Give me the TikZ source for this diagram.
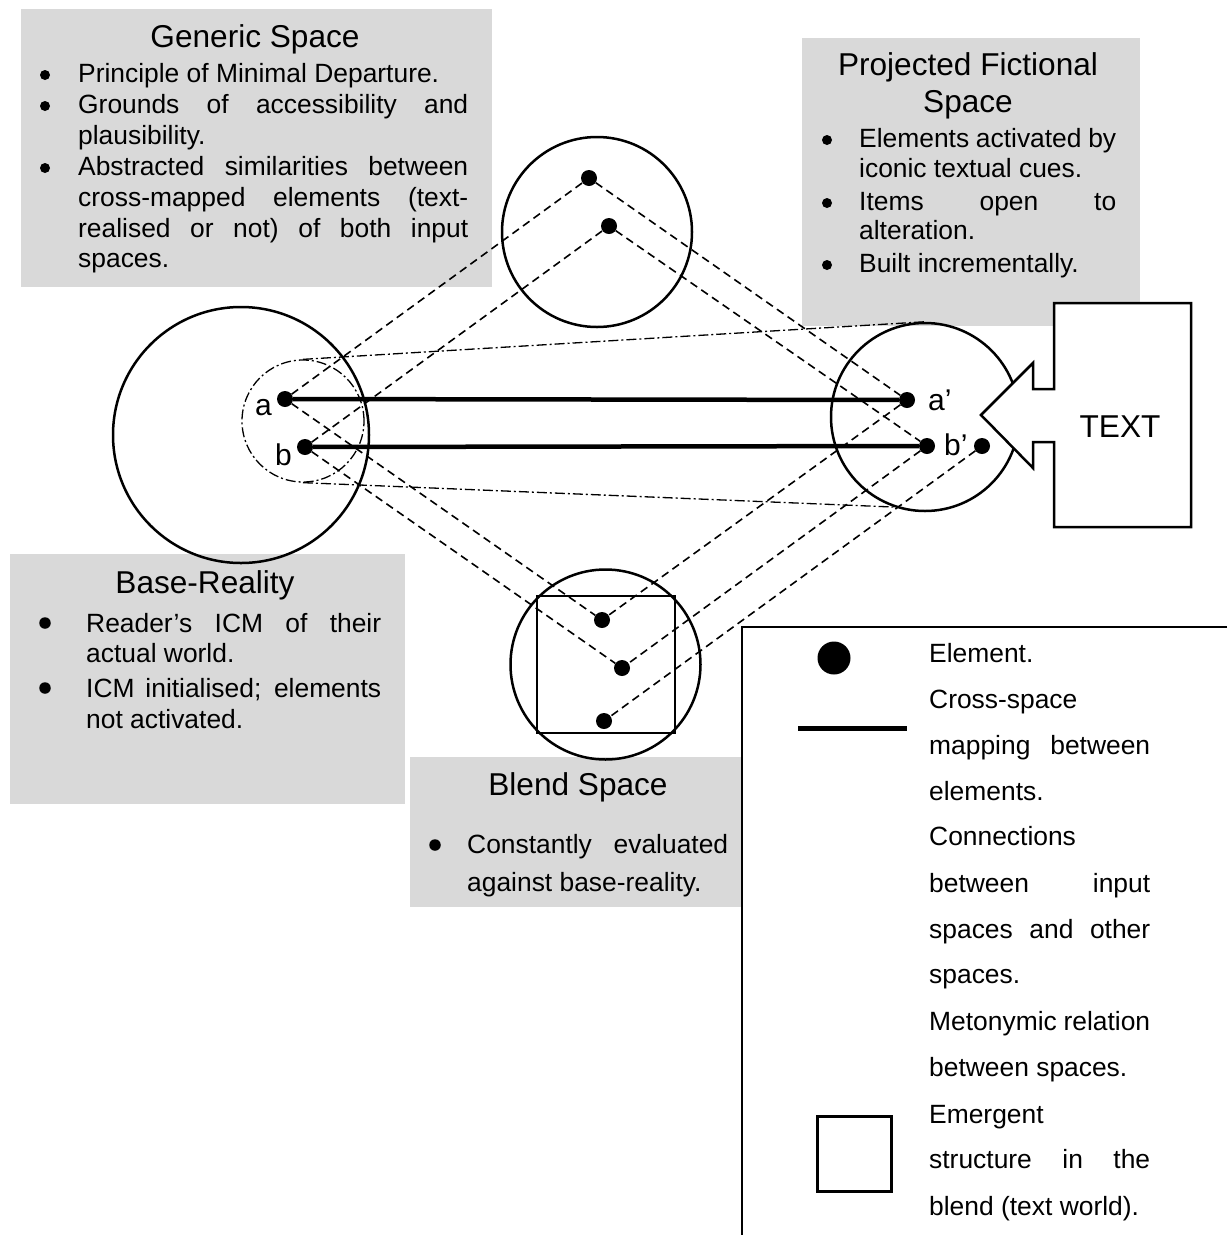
\documentclass[tikz,border=0pt]{standalone}
\usepackage{fontspec}
\setmainfont{Liberation Sans}
\definecolor{boxgray}{HTML}{D9D9D9}
\newcommand\mybody{\fontsize{26.4}{30}\selectfont}
\newcommand\mytitle{\fontsize{31.6}{36}\selectfont}
\newcommand\mylabel{\fontsize{30}{34}\selectfont}
\newcommand\jst[2]{\makebox[#1pt][s]{#2}}
\begin{document}
\begin{tikzpicture}[x=1pt,y=-1pt,
  graybox/.style={fill=boxgray,draw=none},
  txt/.style={inner sep=0pt,anchor=base west,font=\mybody},
  ttl/.style={inner sep=0pt,anchor=base,font=\mytitle},
  bul/.style={circle,fill=black,inner sep=0pt,minimum size=10pt},
  bulbig/.style={circle,fill=black,inner sep=0pt,minimum size=11.5pt},
  elem/.style={circle,fill=black,inner sep=0pt,minimum size=16pt},
  spacecirc/.style={circle,draw,line width=2.5pt,inner sep=0pt},
  conn/.style={line width=1.6pt,dash pattern=on 8pt off 5pt},
  meto/.style={line width=1.3pt,dash pattern=on 10pt off 3pt on 2pt off 3pt},
  mapping/.style={line width=4.5pt},
  lbl/.style={inner sep=0pt,anchor=base west,font=\mylabel}]
\useasboundingbox (0,0) rectangle (1227,1235);

% ---------- gray text boxes ----------
\fill[graybox] (21,9) rectangle (492,287);
\fill[graybox] (802,38) rectangle (1140,326);
\fill[graybox] (10,554) rectangle (405,804);
\fill[graybox] (410,757) rectangle (742,907);

% Generic Space
\node[ttl] (gtitle) at (255,47) {Generic Space};
\node[bul] (gb1) at (45,75) {};
\node[txt] (gt1) at (78,82) {Principle of Minimal Departure.};
\node[bul] (gb2) at (45,106) {};
\node[txt] (gt2) at (78,113) {\jst{390}{Grounds of accessibility and}};
\node[txt] (gt3) at (78,144) {plausibility.};
\node[bul] (gb3) at (45,168) {};
\node[txt] (gt4) at (78,175) {\jst{390}{Abstracted similarities between}};
\node[txt] (gt5) at (78,206) {\jst{390}{cross-mapped elements (text-}};
\node[txt] (gt6) at (78,237) {\jst{390}{realised or not) of both input}};
\node[txt] (gt7) at (78,267) {spaces.};

% Projected Fictional Space
\node[ttl] (ptitle1) at (968,75) {Projected Fictional};
\node[ttl] (ptitle2) at (968,112) {Space};
\node[bul] (pb1) at (827,140) {};
\node[txt] (pt1) at (859,147) {\jst{257}{Elements activated by}};
\node[txt] (pt2) at (859,177) {iconic textual cues.};
\node[bul] (pb2) at (827,203) {};
\node[txt] (pt3) at (859,210) {\jst{257}{Items open to}};
\node[txt] (pt4) at (859,239) {alteration.};
\node[bul] (pb3) at (827,265) {};
\node[txt] (pt5) at (859,272) {Built incrementally.};

% Base-Reality
\node[ttl] (btitle) at (205,593) {Base-Reality};
\node[bulbig] (bb1) at (45,623) {};
\node[txt] (bt1) at (86,632) {\jst{295}{Reader’s ICM of their}};
\node[txt] (bt2) at (86,662) {actual world.};
\node[bulbig] (bb2) at (45,688) {};
\node[txt] (bt3) at (86,697) {\jst{295}{ICM initialised; elements}};
\node[txt] (bt4) at (86,728) {not activated.};

% Blend Space
\node[ttl] (ltitle) at (578,795) {Blend Space};
\node[bulbig] (lb1) at (435,845) {};
\node[txt] (lt1) at (467,853) {\jst{261}{Constantly evaluated}};
\node[txt] (lt2) at (467,891) {against base-reality.};

% ---------- mental spaces ----------
\node[spacecirc,minimum size=190pt] (gen) at (597,232) {};
\node[spacecirc,minimum size=256pt] (base) at (241,435) {};
\node[spacecirc,minimum size=188pt] (proj) at (925,417) {};
\node[spacecirc,minimum size=190pt] (blend) at (605.5,664.5) {};
\draw[line width=2pt] (537,596) rectangle (675,733);

% metonymic relation
\node[meto,draw,circle,inner sep=0pt,minimum size=122pt] (met) at (303,421) {};
\draw[meto] (met.north) -- (proj.north);
\draw[meto] (met.south) -- (proj.251);

% TEXT callout
\draw[line width=2.5pt,fill=white] (1054,303) -- (1054,389) -- (1033,389) -- (1033,363) -- (981,415)
  -- (1033,468) -- (1033,442) -- (1054,442) -- (1054,527) -- (1191,527) -- (1191,303) -- cycle;
\node[ttl] (textlbl) at (1120,437) {TEXT};

% ---------- elements ----------
\node[elem] (a) at (285,399) {};
\node[elem] (b) at (305,447) {};
\node[elem] (g1) at (589,178) {};
\node[elem] (g2) at (609,226) {};
\node[elem] (ap) at (907,400) {};
\node[elem] (bp) at (927,446) {};
\node[elem] (cp) at (982,446) {};
\node[elem] (d1) at (602,620) {};
\node[elem] (d2) at (622,668) {};
\node[elem] (d3) at (604,721) {};

\node[lbl] (la) at (255,415) {a};
\node[lbl] (lb) at (275,465) {b};
\node[lbl] (lap) at (928,410) {a’};
\node[lbl] (lbp) at (944,455) {b’};

% connections
\draw[conn] (a) -- (g1);
\draw[conn] (b) -- (g2);
\draw[conn] (g1) -- (ap);
\draw[conn] (g2) -- (bp);
\draw[conn] (a) -- (d1);
\draw[conn] (b) -- (d2);
\draw[conn] (ap) -- (d1);
\draw[conn] (bp) -- (d2);
\draw[conn] (cp) -- (d3);

% cross-space mappings
\draw[mapping] (a) -- (ap);
\draw[mapping] (b) -- (bp);

% ---------- legend ----------
\coordinate (legtr) at (1227,627);
\coordinate (legtl) at (742,627);
\coordinate (legbl) at (742,1235);
\draw[line width=1.5pt] (legtr) -- (legtl) -- (legbl);
\node[elem,minimum size=33pt] (legdot) at (834,658) {};
\coordinate (legm1) at (798,728);
\coordinate (legm2) at (907,728);
\draw[line width=5pt] (legm1) -- (legm2);
\draw[line width=3pt] (817,1116) rectangle (891,1191);

\node[txt] (e1) at (929,662) {Element.};
\node[txt] (e2) at (929,708) {Cross-space};
\node[txt] (e3) at (929,754) {\jst{221}{mapping between}};
\node[txt] (e4) at (929,800) {elements.};
\node[txt] (e5) at (929,845) {Connections};
\node[txt] (e6) at (929,892) {\jst{221}{between input}};
\node[txt] (e7) at (929,938) {\jst{221}{spaces and other}};
\node[txt] (e8) at (929,983) {spaces.};
\node[txt] (e9) at (929,1030) {\jst{221}{Metonymic relation}};
\node[txt] (e10) at (929,1076) {between spaces.};
\node[txt] (e11) at (929,1123) {Emergent};
\node[txt] (e12) at (929,1168) {\jst{221}{structure in the}};
\node[txt] (e13) at (929,1215) {blend (text world).};
\end{tikzpicture}
\end{document}
